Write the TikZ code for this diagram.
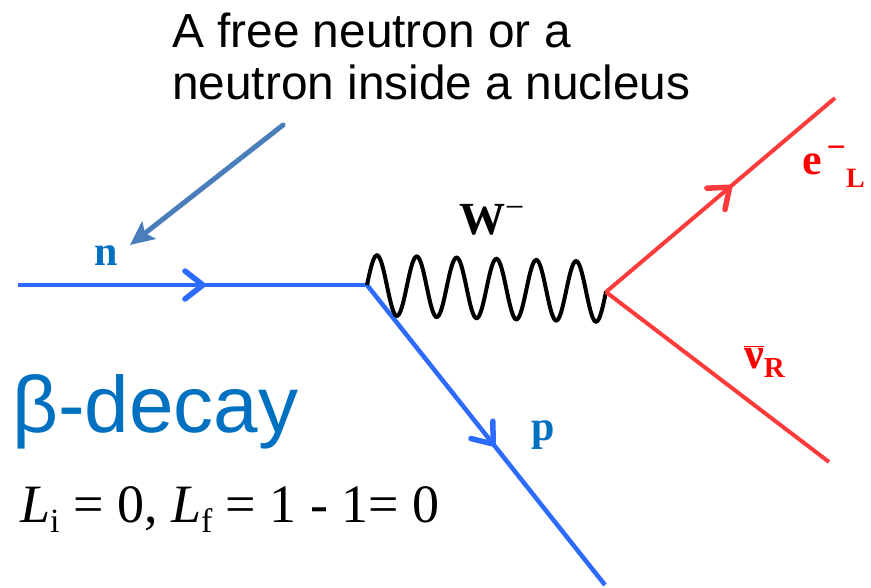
\documentclass[tikz,border=0pt]{standalone}
\usepackage{fontspec}
\setmainfont{Liberation Serif}
\newfontfamily\arialfont{Liberation Sans}
\usetikzlibrary{decorations.markings,arrows.meta}
\definecolor{lineblue}{HTML}{2D6BFF}
\definecolor{labelblue}{HTML}{0070C0}
\definecolor{linered}{HTML}{FF3B3B}
\definecolor{steel}{HTML}{4A7EBB}
\tikzset{
  midarrow/.style={postaction={decorate},decoration={markings,
    mark=at position #1 with {\draw[line width=5.5pt,line cap=round,line join=round]
      (-18pt,14pt) -- (0pt,0pt) -- (-18pt,-14pt);}}},
  fermionblue/.style={draw=lineblue,line width=4.5pt},
  fermionred/.style={draw=linered,line width=4pt},
  boson/.style={draw=black,line width=4pt},
  lbl/.style={inner sep=0pt,anchor=base},
}
\begin{document}
\begin{tikzpicture}[x=1pt,y=-1pt]
\useasboundingbox (0,0) rectangle (871,588);
\coordinate (nstart) at (18,285);
\coordinate (v1) at (367,285);
\coordinate (pend) at (605,585);
\coordinate (v2) at (606,292);
\coordinate (eend) at (835,98);
\coordinate (nuend) at (829,462);
\coordinate (astart) at (283,125);
\coordinate (aend) at (130,245);

\draw[fermionblue,midarrow=0.53] (nstart) -- (v1);
\draw[fermionblue,midarrow=0.53] (v1) -- (pend);
\draw[boson] (v1) -- plot[domain=0:239,samples=241,smooth] ({367+\x},{285+7*\x/239-30*sin(\x/39.833*360)}) -- (v2);
\draw[fermionred,midarrow=0.54] (v2) -- (eend);
\draw[fermionred] (v2) -- (nuend);
\draw[steel,line width=5pt,line cap=round,-{Stealth[length=24pt,width=22pt,inset=5pt]}] (astart) -- (aend);

\node[inner sep=0pt,anchor=base west,align=left,font=\arialfont\fontsize{47.8}{52}\selectfont] (note) at (172,100)
  {A free neutron or a\\neutron inside a nucleus};
\node[lbl,text=labelblue,font=\bfseries\fontsize{42}{42}\selectfont] (nlbl) at (106,266) {n};
\node[lbl,text=labelblue,font=\bfseries\fontsize{42}{42}\selectfont] (plbl) at (543,440) {p};
\node[inner sep=0pt,anchor=base west,font=\bfseries\fontsize{46}{46}\selectfont] (wlbl) at (459,235) {W\raisebox{0.36em}{\fontsize{34}{34}\selectfont\mdseries\textminus}};
\node[inner sep=0pt,anchor=base west,text=red,font=\bfseries\fontsize{44}{44}\selectfont] (elbl) at (802,175)
  {e\hspace{5pt}\raisebox{0.38em}{\fontsize{34}{34}\selectfont\textminus}\raisebox{-0.28em}{\fontsize{28}{28}\selectfont L}};
\node[inner sep=0pt,anchor=base west,text=red,font=\bfseries\fontsize{44}{44}\selectfont] (nulbl) at (744,368)
  {$\overline{\hbox{ν}}$\raisebox{-0.22em}{\fontsize{29}{29}\selectfont R}};
\node[inner sep=0pt,anchor=base west,text=labelblue,font=\arialfont\fontsize{80}{80}\selectfont] (beta) at (12,432) {β-decay};
\node[inner sep=0pt,anchor=base west,font=\fontsize{54}{54}\selectfont] (eq) at (20,522)
  {\textit{L}\raisebox{-0.2em}{\fontsize{34}{34}\selectfont i} = 0, \textit{L}\raisebox{-0.2em}{\fontsize{34}{34}\selectfont f} = 1 - 1= 0};
\end{tikzpicture}
\end{document}
